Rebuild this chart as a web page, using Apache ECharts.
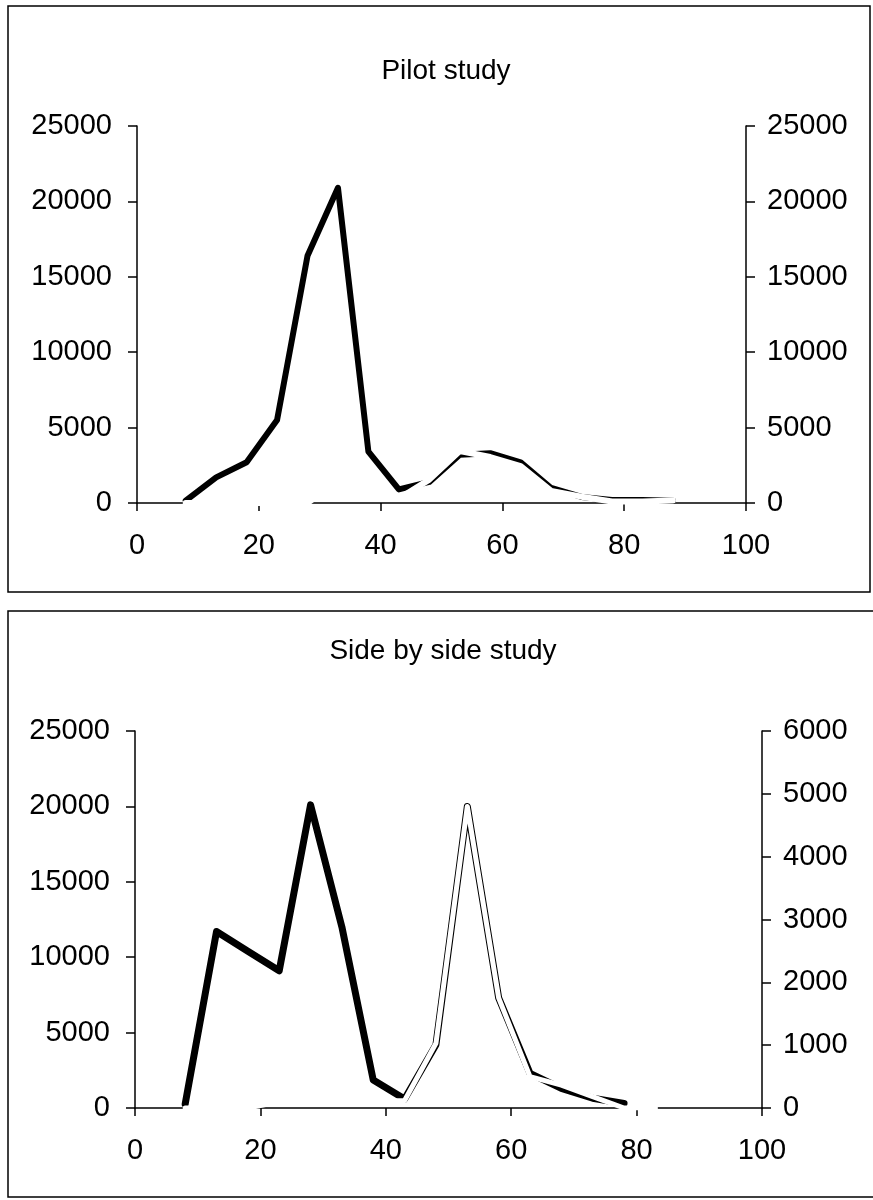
<!DOCTYPE html>
<html>
<head>
<meta charset="utf-8">
<script src="https://cdn.jsdelivr.net/npm/echarts@6/dist/echarts.min.js"></script>
<style>
  html, body { margin: 0; padding: 0; background: #ffffff; }
  #chart { width: 873px; height: 1200px; }
</style>
</head>
<body>
<div id="chart"></div>
<script>
// Sampling positions (x) shared by both studies
const positions = [8, 13, 18, 23, 28, 33, 38, 43, 48, 53, 58, 63, 68, 73, 78, 83, 88];

// Pilot study: main series (left axis) and overlay series (right axis, same scale)
const pilotMain    = [150, 1700, 2700, 5500, 16400, 20900, 3400, 900, 1400, 3200, 3300, 2700, 1000, 400, 200, 200, 150];
const pilotOverlay = [0, 0, 0, 0, 0, 1500, 1000, 300, 1550, 3450, 3050, 2450, 800, 420, 100, 100, 160];

// Side by side study: main series (left axis) and overlay series (right axis 0-6000)
const sideMain    = [250, 11700, 10400, 9100, 20100, 12000, 1850, 600, 4200, 20000, 7300, 2300, 1300, 650, 300];
const sideOverlay = [0, 0, 0, 100, 100, 100, 100, 120, 1030, 4800, 1752, 500, 365, 180, 0, 0];

// Axis ticks
const xTicks = { min: 0, max: 100, step: 20 };
const pilotLeftTicks  = { min: 0, max: 25000, step: 5000 };
const pilotRightTicks = { min: 0, max: 25000, step: 5000 };
const sideLeftTicks   = { min: 0, max: 25000, step: 5000 };
const sideRightTicks  = { min: 0, max: 6000, step: 1000 };

const titles = ['Pilot study', 'Side by side study'];

const FONT = '"Liberation Sans", Arial, Helvetica, sans-serif';
const INK = '#000000';
const LABEL_SIZE = 29;

function pairs(xs, ys) {
  return ys.map((v, i) => [xs[i], v]);
}

// plain integers, no thousands separator
const plain = v => String(Math.round(v));

function xAxisFor(gridIndex) {
  return {
    type: 'value', gridIndex,
    min: xTicks.min, max: xTicks.max, interval: xTicks.step,
    axisLine: { show: true, onZero: false, lineStyle: { color: INK, width: 1.5 } },
    axisTick: { show: true, inside: false, length: 8, lineStyle: { color: INK, width: 1.5 } },
    axisLabel: { color: INK, fontFamily: FONT, fontSize: LABEL_SIZE, margin: 28, formatter: plain },
    splitLine: { show: false }
  };
}

function yAxisFor(gridIndex, ticks, position) {
  return {
    type: 'value', gridIndex, position,
    min: ticks.min, max: ticks.max, interval: ticks.step,
    axisLine: { show: true, lineStyle: { color: INK, width: 1.5 } },
    axisTick: { show: true, inside: false, length: 9, lineStyle: { color: INK, width: 1.5 } },
    axisLabel: { color: INK, fontFamily: FONT, fontSize: LABEL_SIZE,
                 margin: position === 'left' ? 25 : 21, formatter: plain },
    splitLine: { show: false }
  };
}

function lineSeries(xAxisIndex, yAxisIndex, data, color, width) {
  return {
    type: 'line', xAxisIndex, yAxisIndex, data,
    symbol: 'none', smooth: false,
    lineStyle: { color, width, cap: 'round', join: 'round' },
    emphasis: { disabled: true },
    silent: true
  };
}

const chart = echarts.init(document.getElementById('chart'), null, { renderer: 'canvas' });

chart.setOption({
  animation: false,
  backgroundColor: '#ffffff',
  title: [
    { text: titles[0], left: 446, top: 57, textAlign: 'center', padding: 0,
      textStyle: { color: INK, fontFamily: FONT, fontSize: 28, fontWeight: 'normal' } },
    { text: titles[1], left: 443, top: 637, textAlign: 'center', padding: 0,
      textStyle: { color: INK, fontFamily: FONT, fontSize: 28, fontWeight: 'normal' } }
  ],
  graphic: [
    { type: 'rect', silent: true, z: -1,
      shape: { x: 8, y: 6, width: 862, height: 586 },
      style: { fill: 'none', stroke: INK, lineWidth: 1.5 } },
    { type: 'rect', silent: true, z: -1,
      shape: { x: 8, y: 611, width: 880, height: 586 },
      style: { fill: 'none', stroke: INK, lineWidth: 1.5 } }
  ],
  grid: [
    { left: 137, top: 126, width: 609, height: 377, containLabel: false },
    { left: 135, top: 731, width: 627, height: 377, containLabel: false }
  ],
  xAxis: [xAxisFor(0), xAxisFor(1)],
  yAxis: [
    yAxisFor(0, pilotLeftTicks, 'left'),
    yAxisFor(0, pilotRightTicks, 'right'),
    yAxisFor(1, sideLeftTicks, 'left'),
    yAxisFor(1, sideRightTicks, 'right')
  ],
  series: [
    lineSeries(0, 0, pairs(positions, pilotMain), INK, 6),
    lineSeries(0, 1, pairs(positions, pilotOverlay), '#ffffff', 6),
    lineSeries(1, 2, pairs(positions, sideMain), INK, 7),
    lineSeries(1, 3, pairs(positions, sideOverlay), '#ffffff', 5)
  ]
});
</script>
</body>
</html>
